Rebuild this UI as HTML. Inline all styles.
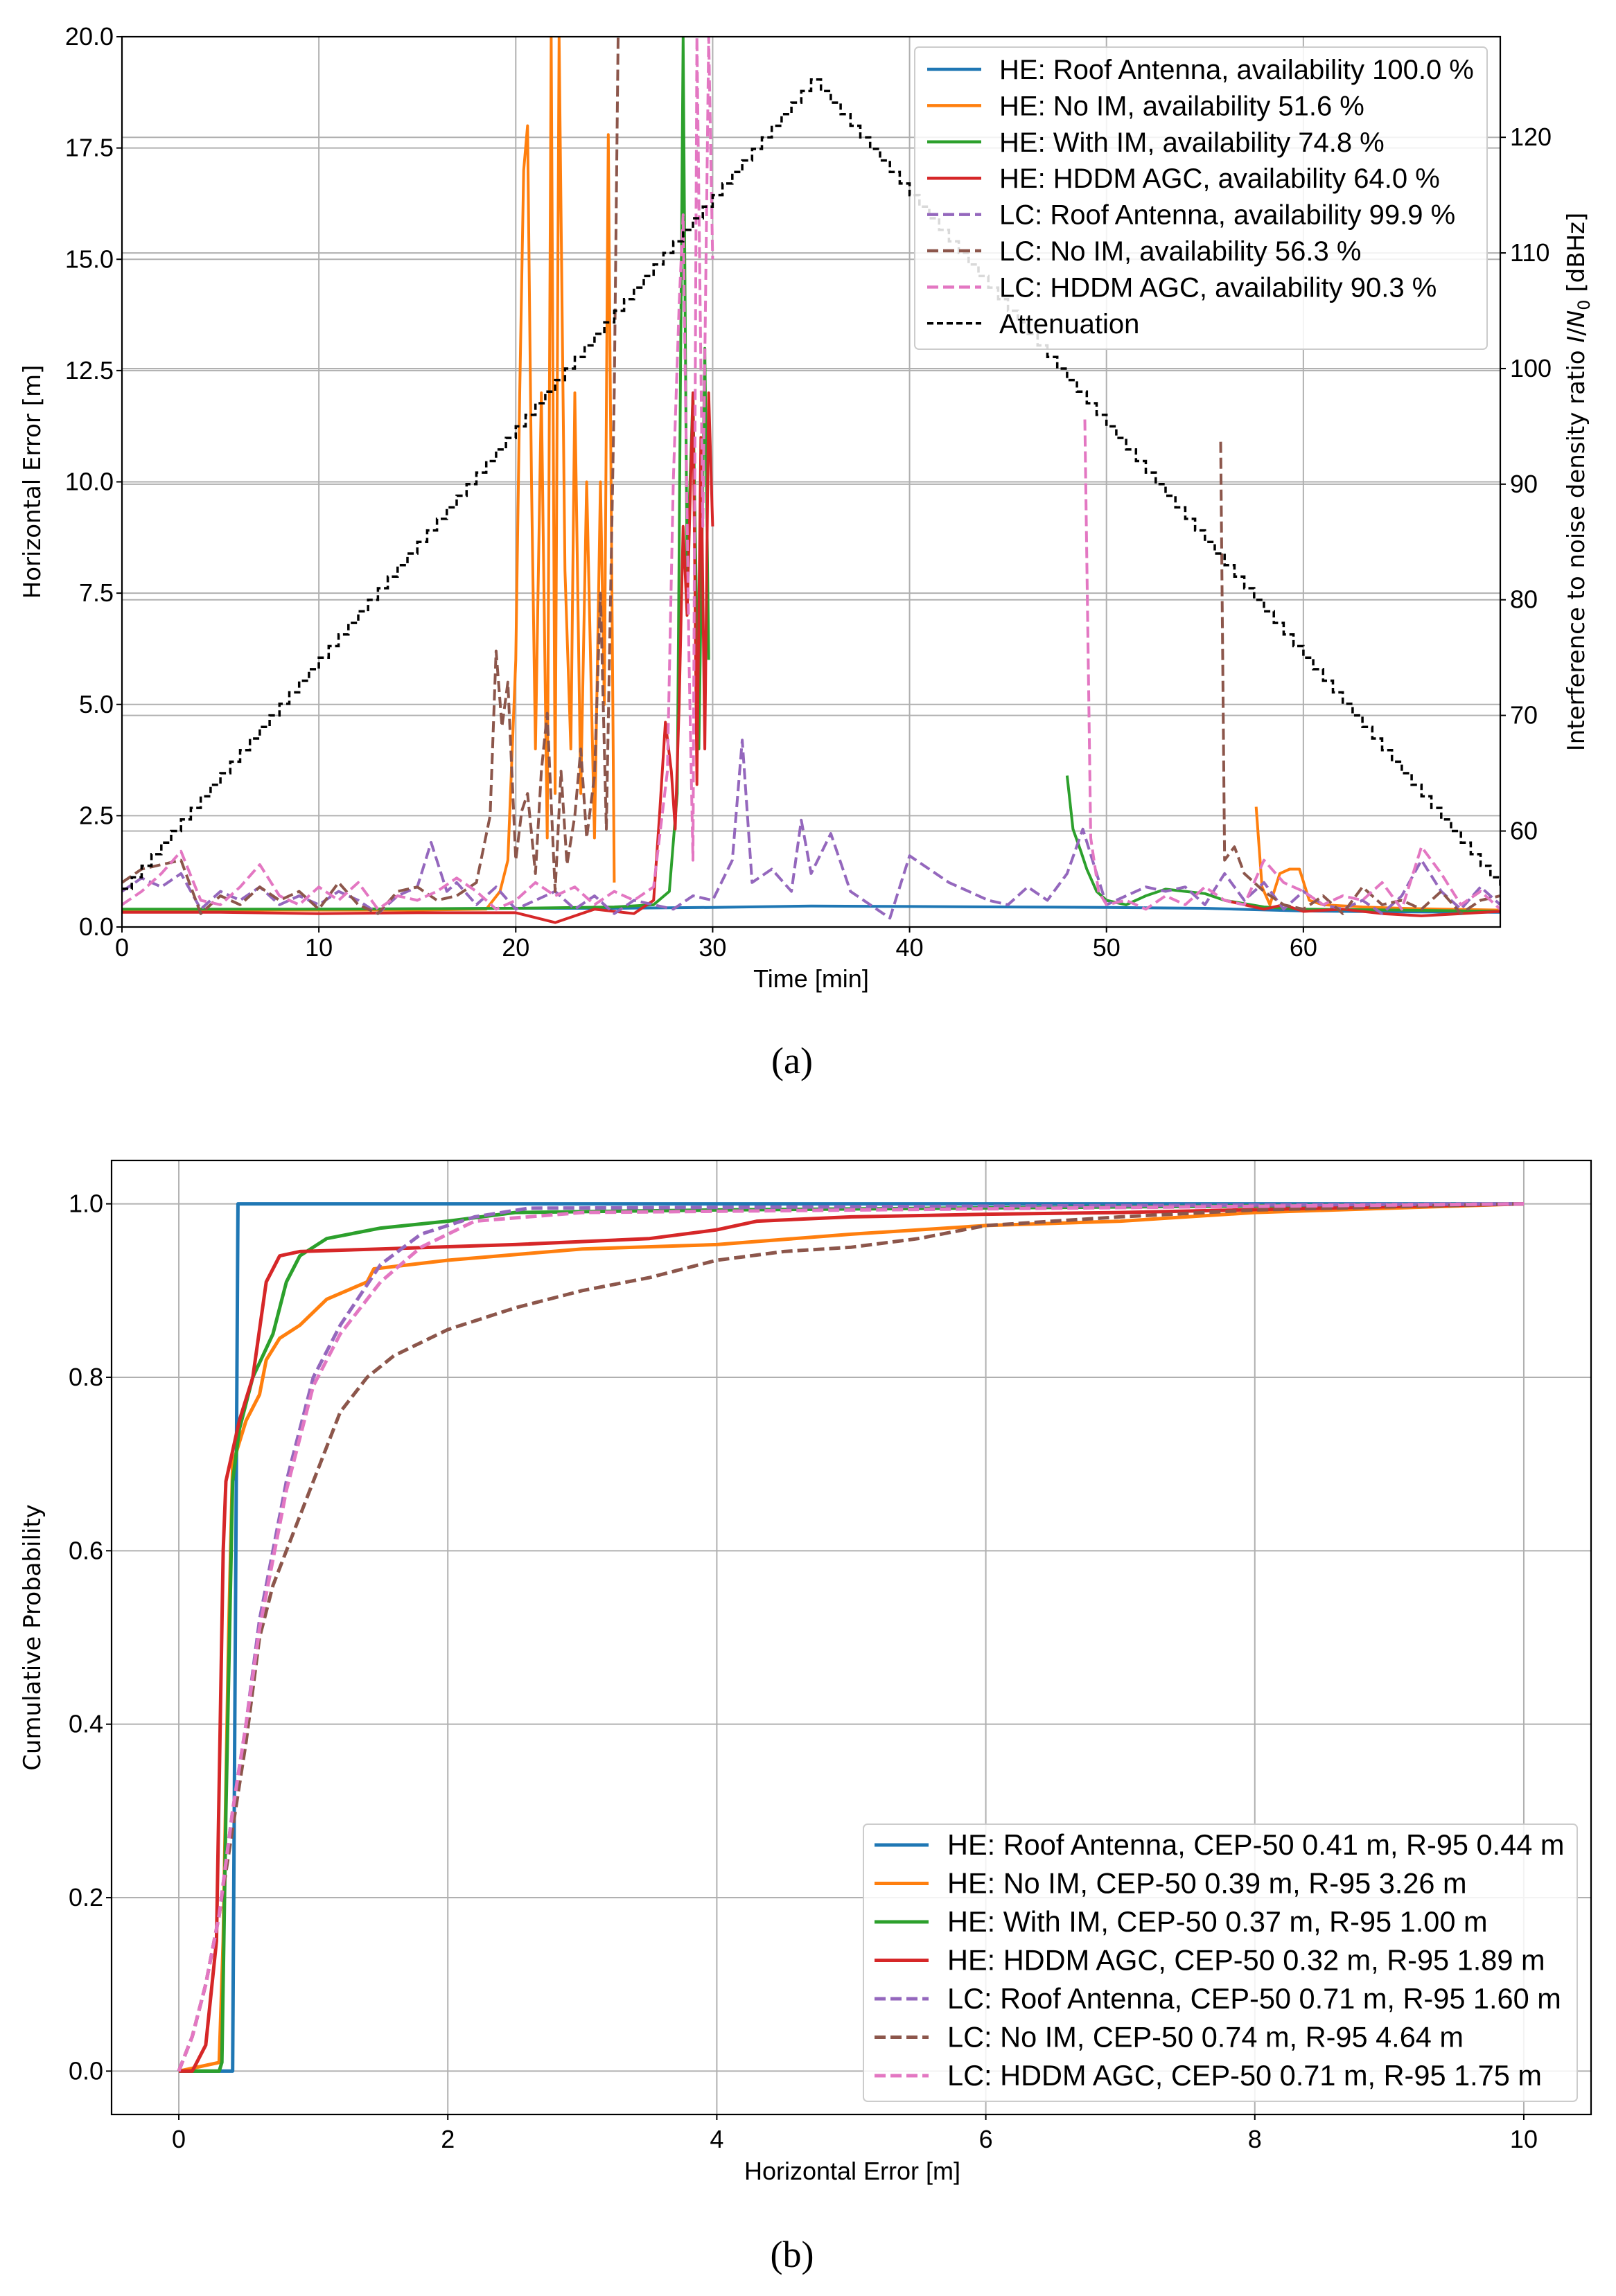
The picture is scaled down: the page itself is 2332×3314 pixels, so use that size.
<!DOCTYPE html>
<html><head><meta charset="utf-8"><title>Horizontal error chart</title>
<style>
html,body{margin:0;padding:0;background:#fff}
svg{display:block}
.tk{font-family:"Liberation Sans Narrow","Liberation Sans",sans-serif;font-size:36px;fill:#000}
.lg{font-family:"Liberation Sans Narrow","Liberation Sans",sans-serif;font-size:40px;fill:#000}
.lgb{font-family:"Liberation Sans Narrow","Liberation Sans",sans-serif;font-size:41.5px;fill:#000}
.dj{font-family:"DejaVu Sans","Liberation Sans",sans-serif;font-size:34px;fill:#000}
.sf{font-family:"Liberation Serif",serif;font-size:54px;fill:#000}
</style></head>
<body>
<svg id="chart" xmlns="http://www.w3.org/2000/svg" width="2332" height="3314" viewBox="0 0 2332 3314">
<rect x="0" y="0" width="2332" height="3314" fill="#fff"/>
<defs>
<clipPath id="clipA"><rect x="176" y="53" width="1989" height="1285"/></clipPath>
<clipPath id="clipB"><rect x="161" y="1675" width="2135" height="1377"/></clipPath>
</defs>
<g id="plotA"></g>
<g id="plotB"></g>
<text class="sf" x="1143" y="1549" text-anchor="middle">(a)</text>
<text class="sf" x="1143" y="3272" text-anchor="middle">(b)</text>
</svg>
<script>
// ---------- Panel (a) data ----------
const heRoofT=[0,5,10,15,20,25,30,35,40,45,50,55,60,65,70];
const heRoofV=[0.38,0.38,0.40,0.41,0.42,0.42,0.44,0.47,0.46,0.45,0.44,0.42,0.36,0.34,0.33];
const heNoImT=[0,5,10,15,18.5,19.2,19.6,20,20.2,20.4,20.6,20.8,21,21.3,21.6,21.8,22,22.2,22.5,22.8,23,23.3,23.6,24,24.3,24.5,24.7,25,25.1,57.4,57.6,57.9,58.3,58.8,59.3,59.8,60.3,61,63,65,67,70];
const heNoImV=[0.38,0.38,0.38,0.38,0.4,0.8,1.5,6,12,17,18,10,4,12,2,20,3,20,8,4,12,3,10,2,10,5,17.8,1,null,null,2.7,0.9,0.5,1.2,1.3,1.3,0.6,0.5,0.45,0.42,0.4,0.38];
const heWithImT=[0,10,20,25,27,27.8,28.2,28.5,28.7,29,29.3,29.6,29.8,30,47.8,48,48.3,48.7,49,49.5,50,51,52,53,54,55,56,58,60,65,70];
const heWithImV=[0.4,0.4,0.42,0.45,0.5,0.8,3,20,8,12,4,13,6,null,null,3.4,2.2,1.7,1.3,0.8,0.6,0.5,0.7,0.85,0.8,0.75,0.6,0.45,0.4,0.38,0.35];
const heHddmT=[0,5,10,15,20,22,24,26,27,27.3,27.6,27.9,28.1,28.3,28.5,28.7,29,29.2,29.4,29.6,29.8,30,30.1,55,56,57,58,59,60,62,64,66,68,70];
const heHddmV=[0.33,0.33,0.3,0.32,0.32,0.1,0.4,0.3,0.6,2.5,4.6,3.5,2.2,5,9,7,12,3.2,11,4,12,9,null,null,0.6,0.5,0.4,0.5,0.35,0.4,0.3,0.25,0.3,0.35];
const lcRoofT=[0,1,2,3,4,5,6,7,8,9,10,11,12,13,14,15,15.7,16.5,17,18,19,20,21,22,23,24,25,26,27,28,29,30,31,31.5,32,33,34,34.5,35,36,37,38,39,40,41,42,43,44,45,46,47,48,48.8,49.5,50,51,52,53,54,55,56,57,58,59,60,61,62,63,64,65,66,67,68,69,70];
const lcRoofV=[0.8,1.1,0.9,1.2,0.4,0.8,0.6,0.9,0.5,0.7,0.5,0.8,0.6,0.3,0.7,0.9,1.9,0.8,1.0,0.5,0.9,0.4,0.6,0.8,0.4,0.7,0.3,0.6,0.5,0.4,0.7,0.6,1.5,4.2,1.0,1.3,0.8,2.4,1.2,2.1,0.8,0.5,0.2,1.6,1.3,1.0,0.8,0.6,0.5,0.9,0.6,1.2,2.2,1.2,0.5,0.7,0.9,0.8,0.9,0.5,1.2,0.6,1.0,0.4,0.8,0.5,0.4,0.6,0.3,0.7,1.5,0.8,0.4,0.9,0.5];
const lcNoImT=[0,1,2,3,4,5,6,7,8,9,10,11,12,13,14,15,16,17,18,18.7,19,19.3,19.6,20,20.3,20.6,21,21.3,21.6,22,22.3,22.6,23,23.3,23.6,24,24.3,24.6,25,25.2,25.4,55.7,55.8,56,56.5,57,58,59,60,61,62,63,64,65,66,67,68,69,70];
const lcNoImV=[1.0,1.3,1.4,1.5,0.3,0.7,0.5,0.9,0.6,0.8,0.4,1.0,0.5,0.3,0.8,0.9,0.6,0.7,1.0,2.5,6.2,4.5,5.5,1.5,2.6,3,1.2,3.5,4.8,0.8,3.5,1.4,2.5,4,2,3.4,7.5,2.2,12,20,null,null,10.9,1.5,1.8,1.2,0.8,0.5,0.4,0.7,0.3,0.9,0.5,0.6,0.4,0.8,0.3,0.6,0.7];
const lcHddmT=[0,1,2,3,4,5,6,7,8,9,10,11,12,13,14,15,16,17,18,19,20,21,22,23,24,25,26,27,27.7,28,28.3,28.5,28.8,29,29.2,29.5,29.8,30,30.1,48.8,48.9,49.2,49.6,50,51,52,53,54,55,56,57,58,59,60,61,62,63,64,65,66,67,68,69,70];
const lcHddmV=[0.5,0.8,1.2,1.7,0.6,0.5,0.9,1.4,0.7,0.5,0.9,0.6,1.0,0.4,0.7,0.6,0.8,1.1,0.8,0.4,0.6,1.0,0.7,0.9,0.5,0.8,0.6,0.9,3.5,10,14,16,6,1.5,20,9,20,15,null,null,11.4,2,0.8,0.5,0.6,0.4,0.7,0.5,0.9,0.6,0.5,1.5,1.0,0.8,0.5,0.7,0.6,1.0,0.4,1.8,1.2,0.5,0.8,0.4];
const attenT=[0,0.5,1,1.5,2,2.5,3,3.5,4,4.5,5,5.5,6,6.5,7,7.5,8,8.5,9,9.5,10,10.5,11,11.5,12,12.5,13,13.5,14,14.5,15,15.5,16,16.5,17,17.5,18,18.5,19,19.5,20,20.5,21,21.5,22,22.5,23,23.5,24,24.5,25,25.5,26,26.5,27,27.5,28,28.5,29,29.5,30,30.5,31,31.5,32,32.5,33,33.5,34,34.5,35,35.5,36,36.5,37,37.5,38,38.5,39,39.5,40,40.5,41,41.5,42,42.5,43,43.5,44,44.5,45,45.5,46,46.5,47,47.5,48,48.5,49,49.5,50,50.5,51,51.5,52,52.5,53,53.5,54,54.5,55,55.5,56,56.5,57,57.5,58,58.5,59,59.5,60,60.5,61,61.5,62,62.5,63,63.5,64,64.5,65,65.5,66,66.5,67,67.5,68,68.5,69,69.5,70];
const attenV=[55,56,57,58,59,60,61,62,63,64,65,66,67,68,69,70,71,72,73,74,75,76,77,78,79,80,81,82,83,84,85,86,87,88,89,90,91,92,93,94,95,96,97,98,99,100,101,102,103,104,105,106,107,108,109,110,111,112,113,114,115,116,117,118,119,120,121,122,123,124,125,124,123,122,121,120,119,118,117,116,115,114,113,112,111,110,109,108,107,106,105,104,103,102,101,100,99,98,97,96,95,94,93,92,91,90,89,88,87,86,85,84,83,82,81,80,79,78,77,76,75,74,73,72,71,70,69,68,67,66,65,64,63,62,61,60,59,58,57,56,55];
const xTicksA=[0,10,20,30,40,50,60];
const yTicksA=[0,2.5,5,7.5,10,12.5,15,17.5,20];
const yTickLabelsA=["0.0","2.5","5.0","7.5","10.0","12.5","15.0","17.5","20.0"];
const y2TicksA=[60,70,80,90,100,110,120];
const legendA=["HE: Roof Antenna, availability 100.0 %","HE: No IM, availability 51.6 %","HE: With IM, availability 74.8 %","HE: HDDM AGC, availability 64.0 %","LC: Roof Antenna, availability 99.9 %","LC: No IM, availability 56.3 %","LC: HDDM AGC, availability 90.3 %","Attenuation"];

// ---------- Panel (b) data ----------
const cHeRoofX=[0,0.4,0.42,0.44,10];
const cHeRoofP=[0,0,0.5,1,1];
const cHeNoImX=[0,0.3,0.33,0.37,0.4,0.5,0.6,0.65,0.75,0.9,1.1,1.4,1.45,2,3,4,5,6,7,8,10];
const cHeNoImP=[0,0.01,0.15,0.5,0.7,0.75,0.78,0.82,0.845,0.86,0.89,0.91,0.925,0.935,0.948,0.953,0.965,0.975,0.98,0.99,1];
const cHeWithImX=[0,0.3,0.32,0.35,0.4,0.45,0.55,0.7,0.8,0.9,1.1,1.5,2,2.5,4,10];
const cHeWithImP=[0,0,0.01,0.3,0.68,0.74,0.8,0.85,0.91,0.94,0.96,0.972,0.98,0.99,0.993,1];
const cHeHddmX=[0,0.1,0.2,0.28,0.33,0.35,0.45,0.55,0.65,0.75,0.9,1.5,2.5,3.5,4,4.3,5,6,7,10];
const cHeHddmP=[0,0,0.03,0.15,0.6,0.68,0.75,0.8,0.91,0.94,0.945,0.948,0.953,0.96,0.97,0.98,0.985,0.988,0.99,1];
const cLcRoofX=[0,0.1,0.2,0.3,0.4,0.5,0.6,0.7,0.8,0.9,1.0,1.2,1.5,1.8,2.2,2.6,10];
const cLcRoofP=[0,0.04,0.1,0.18,0.3,0.4,0.52,0.6,0.68,0.74,0.8,0.86,0.93,0.965,0.985,0.995,1];
const cLcNoImX=[0,0.1,0.2,0.3,0.4,0.5,0.6,0.7,0.8,1.0,1.2,1.4,1.6,2,2.5,3,3.5,4,4.5,5,5.5,6,7,8,10];
const cLcNoImP=[0,0.04,0.1,0.18,0.28,0.38,0.5,0.56,0.6,0.68,0.76,0.8,0.825,0.855,0.88,0.9,0.915,0.935,0.945,0.95,0.96,0.975,0.985,0.993,1];
const cLcHddmX=[0,0.1,0.2,0.3,0.4,0.5,0.6,0.7,0.8,0.9,1.0,1.2,1.5,1.8,2.2,3,10];
const cLcHddmP=[0,0.04,0.1,0.18,0.3,0.4,0.51,0.59,0.67,0.73,0.79,0.85,0.91,0.95,0.98,0.99,1];
const xTicksB=[0,2,4,6,8,10];
const yTicksB=[0,0.2,0.4,0.6,0.8,1.0];
const legendB=["HE: Roof Antenna, CEP-50 0.41 m, R-95 0.44 m","HE: No IM, CEP-50 0.39 m, R-95 3.26 m","HE: With IM, CEP-50 0.37 m, R-95 1.00 m","HE: HDDM AGC, CEP-50 0.32 m, R-95 1.89 m","LC: Roof Antenna, CEP-50 0.71 m, R-95 1.60 m","LC: No IM, CEP-50 0.74 m, R-95 4.64 m","LC: HDDM AGC, CEP-50 0.71 m, R-95 1.75 m"];

const colors=["#1f77b4","#ff7f0e","#2ca02c","#d62728","#9467bd","#8c564b","#e377c2","#000000"];
const dashes=[null,null,null,null,"16,7","16,7","16,7","9,5"];
const NS="http://www.w3.org/2000/svg";
function mk(tag,attrs,parent){const e=document.createElementNS(NS,tag);for(const k in attrs)e.setAttribute(k,attrs[k]);parent.appendChild(e);return e;}

const AL=176,AR=2165,AT=53,AB=1338;
const ax=t=>AL+(t-0)/(70-0)*(AR-AL);
const ay=v=>AB-(v-0)/(20-0)*(AB-AT);
const ay2=v=>AB-(v-51.7)/(128.7-51.7)*(AB-AT);
const BL=161,BR=2296,BT=1675,BB=3052;
const bx=x=>BL+(x+0.5)/11*(BR-BL);
const by=p=>BB-(p+0.05)/1.1*(BB-BT);

function pathFrom(xs,ys,fx,fy,step){
  let d="",pen=false;
  const n=Math.min(xs.length,ys.length);
  for(let i=0;i<n;i++){
    if(ys[i]===null||ys[i]===undefined){pen=false;continue;}
    const X=fx(xs[i]).toFixed(1),Y=fy(ys[i]).toFixed(1);
    if(!pen){d+="M"+X+" "+Y;pen=true;}
    else if(step){d+="H"+X+"V"+Y;}
    else d+="L"+X+" "+Y;
  }
  return d;
}

const gA=document.getElementById('plotA');
const gridA=mk('g',{},gA);


xTicksA.forEach(t=>{mk('line',{x1:ax(t),x2:ax(t),y1:AT,y2:AB,stroke:"#b0b0b0","stroke-width":2},gridA);});
yTicksA.forEach(v=>{mk('line',{x1:AL,x2:AR,y1:ay(v),y2:ay(v),stroke:"#b0b0b0","stroke-width":2},gridA);});
y2TicksA.forEach(v=>{mk('line',{x1:AL,x2:AR,y1:ay2(v),y2:ay2(v),stroke:"#b0b0b0","stroke-width":2},gridA);});
const seriesA=[[heRoofT,heRoofV,'he-roof-antenna-line'],[heNoImT,heNoImV,'he-no-im-line'],[heWithImT,heWithImV,'he-with-im-line'],[heHddmT,heHddmV,'he-hddm-agc-line'],[lcRoofT,lcRoofV,'lc-roof-antenna-line'],[lcNoImT,lcNoImV,'lc-no-im-line'],[lcHddmT,lcHddmV,'lc-hddm-agc-line']];
const sgA=mk('g',{"clip-path":"url(#clipA)"},gA);
seriesA.forEach((s,i)=>{
  const p=mk('path',{d:pathFrom(s[0],s[1],ax,ay,false),fill:"none",stroke:colors[i],"stroke-width":4,"stroke-linejoin":"round"},sgA);
  if(dashes[i])p.setAttribute('stroke-dasharray',dashes[i]);
  
  
});
const att=mk('path',{d:pathFrom(attenT,attenV,ax,ay2,true),fill:"none",stroke:"#000","stroke-width":3.5,"stroke-dasharray":"9,5"},sgA);


const frA=mk('rect',{x:AL,y:AT,width:AR-AL,height:AB-AT,fill:"none",stroke:"#000","stroke-width":2.2},gA);


xTicksA.forEach(t=>{
  mk('line',{x1:ax(t),x2:ax(t),y1:AB,y2:AB+8,stroke:"#000","stroke-width":2},gA);
  const tx=mk('text',{x:ax(t),y:AB+42,"text-anchor":"middle",class:"tk"},gA);tx.textContent=t;
  
  
});
yTicksA.forEach((v,i)=>{
  mk('line',{x1:AL-8,x2:AL,y1:ay(v),y2:ay(v),stroke:"#000","stroke-width":2},gA);
  const tx=mk('text',{x:AL-12,y:ay(v)+12,"text-anchor":"end",class:"tk"},gA);tx.textContent=yTickLabelsA[i];
  
  
});
y2TicksA.forEach(v=>{
  mk('line',{x1:AR,x2:AR+8,y1:ay2(v),y2:ay2(v),stroke:"#000","stroke-width":2},gA);
  const tx=mk('text',{x:AR+14,y:ay2(v)+12,"text-anchor":"start",class:"tk"},gA);tx.textContent=v;
  
  
});
{const t=mk('text',{x:(AL+AR)/2,y:1425,"text-anchor":"middle",class:"tk"},gA);t.textContent="Time [min]";


const t2=mk('text',{x:0,y:0,"text-anchor":"middle",class:"dj",transform:"translate(58,"+((AT+AB)/2)+") rotate(-90)"},gA);t2.textContent="Horizontal Error [m]";


const t3=mk('text',{x:0,y:0,"text-anchor":"middle",class:"dj",transform:"translate(2286,"+((AT+AB)/2)+") rotate(-90)"},gA);
t3.innerHTML='Interference to noise density ratio <tspan font-style="italic">I</tspan>/<tspan font-style="italic">N</tspan><tspan font-size="24" dy="8">0</tspan><tspan dy="-8"> [dBHz]</tspan>';

}
{const lg=mk('g',{},gA);


mk('rect',{x:1320,y:68,width:826,height:436,rx:6,fill:"#fff","fill-opacity":0.85,stroke:"#cccccc","stroke-width":2},lg);
legendA.forEach((s,i)=>{
  const y=100+i*52.4;
  const en=mk('g',{},lg);
  
  
  const l=mk('line',{x1:1338,x2:1416,y1:y,y2:y,stroke:colors[i],"stroke-width":i===7?3.5:4.5},en);
  if(dashes[i])l.setAttribute('stroke-dasharray',dashes[i]);
  const t=mk('text',{x:1442,y:y+14,class:"lg"},en);t.textContent=s;
});}

const gB=document.getElementById('plotB');
const gridB=mk('g',{},gB);


xTicksB.forEach(t=>{mk('line',{x1:bx(t),x2:bx(t),y1:BT,y2:BB,stroke:"#b0b0b0","stroke-width":2},gridB);});
yTicksB.forEach(v=>{mk('line',{x1:BL,x2:BR,y1:by(v),y2:by(v),stroke:"#b0b0b0","stroke-width":2},gridB);});
const seriesB=[[cHeRoofX,cHeRoofP,'cdf-he-roof-antenna'],[cHeNoImX,cHeNoImP,'cdf-he-no-im'],[cHeWithImX,cHeWithImP,'cdf-he-with-im'],[cHeHddmX,cHeHddmP,'cdf-he-hddm-agc'],[cLcRoofX,cLcRoofP,'cdf-lc-roof-antenna'],[cLcNoImX,cLcNoImP,'cdf-lc-no-im'],[cLcHddmX,cLcHddmP,'cdf-lc-hddm-agc']];
const sgB=mk('g',{"clip-path":"url(#clipB)"},gB);
seriesB.forEach((s,i)=>{
  const p=mk('path',{d:pathFrom(s[0],s[1],bx,by,false),fill:"none",stroke:colors[i],"stroke-width":5,"stroke-linejoin":"round"},sgB);
  if(dashes[i])p.setAttribute('stroke-dasharray',dashes[i]);
  
  
});
const frB=mk('rect',{x:BL,y:BT,width:BR-BL,height:BB-BT,fill:"none",stroke:"#000","stroke-width":2.2},gB);


xTicksB.forEach(t=>{
  mk('line',{x1:bx(t),x2:bx(t),y1:BB,y2:BB+8,stroke:"#000","stroke-width":2},gB);
  const tx=mk('text',{x:bx(t),y:BB+48,"text-anchor":"middle",class:"tk"},gB);tx.textContent=t;
  
  
});
yTicksB.forEach(v=>{
  mk('line',{x1:BL-8,x2:BL,y1:by(v),y2:by(v),stroke:"#000","stroke-width":2},gB);
  const tx=mk('text',{x:BL-12,y:by(v)+12,"text-anchor":"end",class:"tk"},gB);tx.textContent=v.toFixed(1);
  
  
});
{const t=mk('text',{x:1230,y:3146,"text-anchor":"middle",class:"tk"},gB);t.textContent="Horizontal Error [m]";


const t2=mk('text',{x:0,y:0,"text-anchor":"middle",class:"dj",transform:"translate(58,"+((BT+BB)/2)+") rotate(-90)"},gB);t2.textContent="Cumulative Probability";

}
{const lg=mk('g',{},gB);


mk('rect',{x:1246,y:2633,width:1030,height:400,rx:6,fill:"#fff","fill-opacity":0.85,stroke:"#cccccc","stroke-width":2},lg);
legendB.forEach((s,i)=>{
  const y=2663+i*55.5;
  const en=mk('g',{},lg);
  
  
  const l=mk('line',{x1:1262,x2:1340,y1:y,y2:y,stroke:colors[i],"stroke-width":5},en);
  if(dashes[i])l.setAttribute('stroke-dasharray',dashes[i]);
  const t=mk('text',{x:1367,y:y+14,class:"lgb"},en);t.textContent=s;
});}
</script>
</body></html>
